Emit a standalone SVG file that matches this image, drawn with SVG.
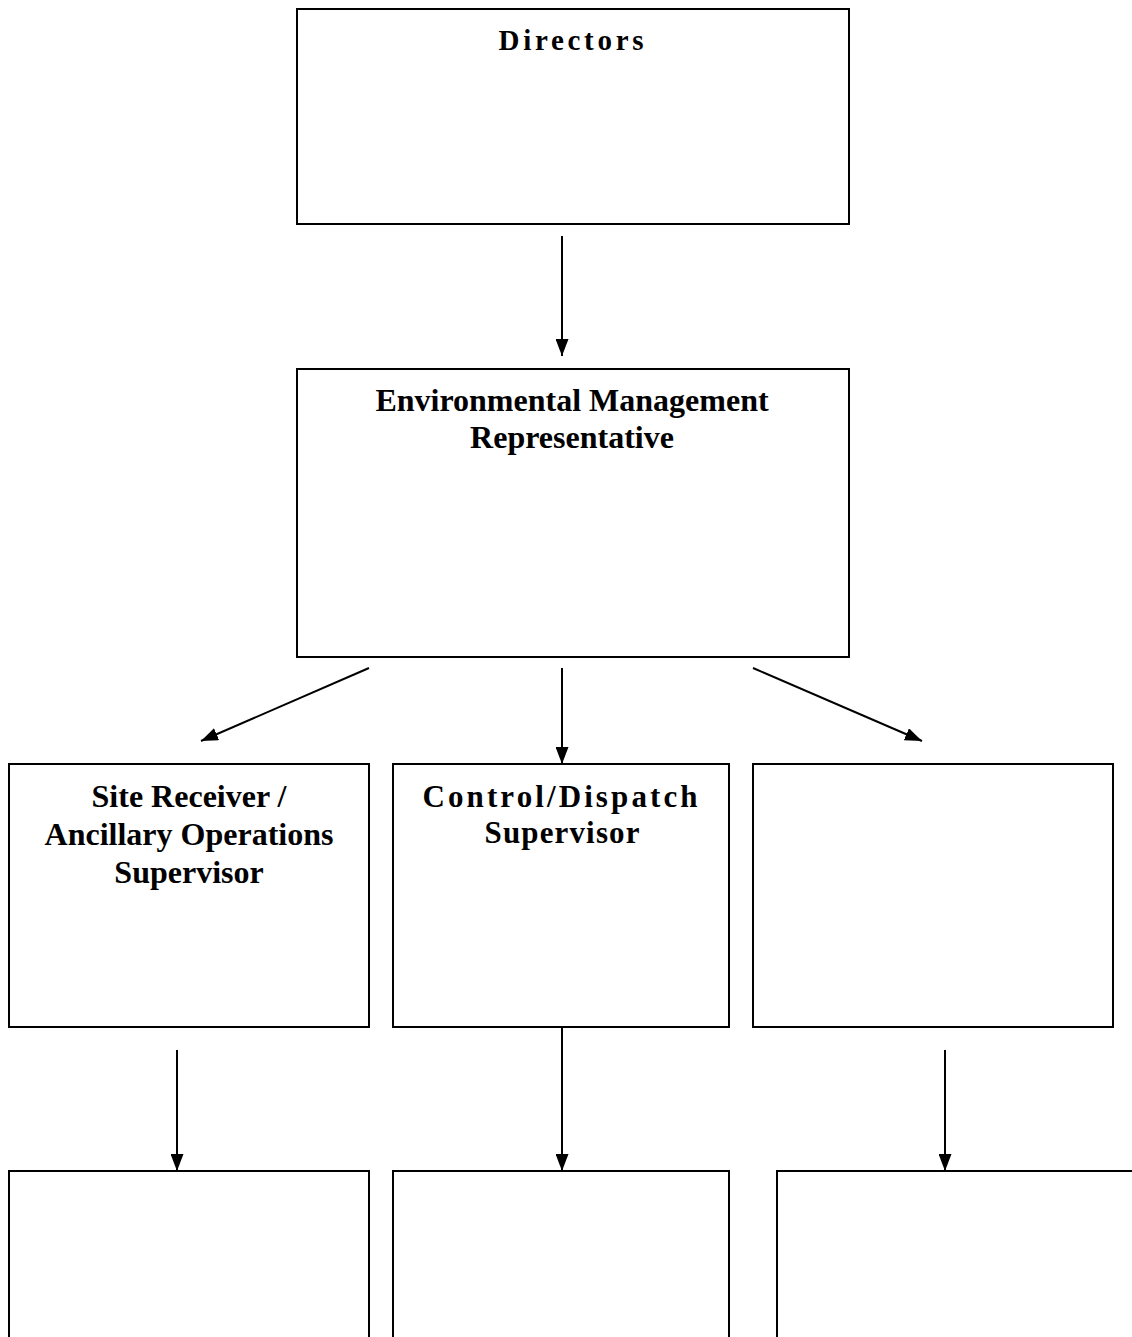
<svg xmlns="http://www.w3.org/2000/svg" width="1132" height="1337" viewBox="0 0 1132 1337">
<style>
.box{fill:#fff;stroke:#000;stroke-width:2}
.t{font-family:"Liberation Serif","Times New Roman",serif;font-weight:bold;font-size:32px;fill:#000;text-anchor:middle}
.s{font-size:31px}
.c{stroke:#000;stroke-width:2;fill:none;marker-end:url(#ah)}
</style>
<defs>
<marker id="ah" markerWidth="17" markerHeight="13" refX="17" refY="6.5" orient="auto" markerUnits="userSpaceOnUse" viewBox="0 0 17 13">
<path d="M0,0 L17,6.5 L0,13 Z" fill="#000"/>
</marker>
</defs>
<rect width="1132" height="1337" fill="#fff"/>
<g id="directors">
<rect class="box" x="297" y="9" width="552" height="215"/>
<text class="t" x="571" y="50" style="font-size:29px" textLength="145" lengthAdjust="spacing">Directors</text>
</g>
<g id="emr">
<rect class="box" x="297" y="369" width="552" height="288"/>
<text class="t" x="572" y="411">Environmental Management</text>
<text class="t" x="572" y="448">Representative</text>
</g>
<g id="site-receiver">
<rect class="box" x="9" y="764" width="360" height="263"/>
<text class="t" x="189" y="807">Site Receiver /</text>
<text class="t" x="189" y="845">Ancillary Operations</text>
<text class="t" x="189" y="883">Supervisor</text>
</g>
<g id="control-dispatch">
<rect class="box" x="393" y="764" width="336" height="263"/>
<text class="t s" x="560" y="807" textLength="275" lengthAdjust="spacing">Control/Dispatch</text>
<text class="t s" x="562" y="843" textLength="155" lengthAdjust="spacing">Supervisor</text>
</g>
<g id="box-r2c3">
<rect class="box" x="753" y="764" width="360" height="263"/>
</g>
<g id="box-r3c1">
<rect class="box" x="9" y="1171" width="360" height="200"/>
</g>
<g id="box-r3c2">
<rect class="box" x="393" y="1171" width="336" height="200"/>
</g>
<g id="box-r3c3">
<rect class="box" x="777" y="1171" width="380" height="200"/>
</g>
<g id="connectors">
<line class="c" x1="562" y1="236" x2="562" y2="356"/>
<line class="c" x1="369" y1="668" x2="201" y2="741"/>
<line class="c" x1="562" y1="668" x2="562" y2="764"/>
<line class="c" x1="753" y1="668" x2="922" y2="741"/>
<line class="c" x1="177" y1="1050" x2="177" y2="1171"/>
<line class="c" x1="562" y1="1027" x2="562" y2="1171"/>
<line class="c" x1="945" y1="1050" x2="945" y2="1171"/>
</g>
</svg>
